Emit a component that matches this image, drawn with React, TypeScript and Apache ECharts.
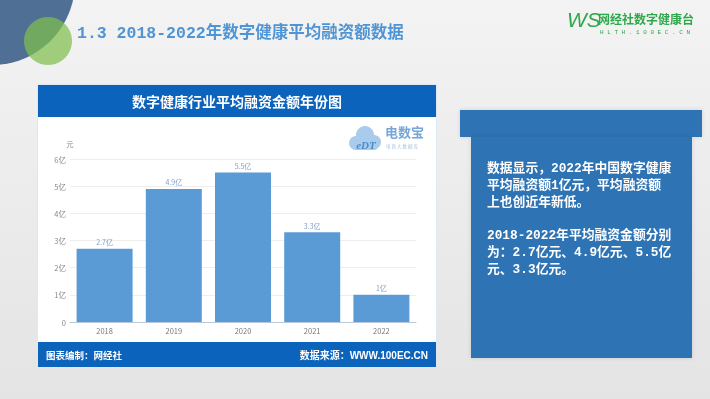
import React, { useEffect, useRef } from "react";
import * as echarts from "echarts";

const categories = ["2018", "2019", "2020", "2021", "2022"];
const values = [2.7, 4.9, 5.5, 3.3, 1];
const yTicks = [0, 1, 2, 3, 4, 5, 6];
const pageTitle = "1.3 2018-2022年数字健康平均融资额数据";
const chartTitle = "数字健康行业平均融资金额年份图";
const footerLeft = "图表编制：网经社";
const footerRight = "数据来源：WWW.100EC.CN";
const boxText =
  "数据显示，2022年中国数字健康\n平均融资额1亿元，平均融资额\n上也创近年新低。\n\n2018-2022年平均融资金额分别\n为：2.7亿元、4.9亿元、5.5亿\n元、3.3亿元。";

const CJK = "'Noto Sans CJK SC', 'Noto Sans', sans-serif";
const MONO = "'Liberation Mono', 'DejaVu Sans Mono', 'Noto Sans CJK SC', monospace";

export default function App() {
  const ref = useRef<HTMLDivElement>(null);
  useEffect(() => {
    if (!ref.current) return;
    const chart = echarts.init(ref.current, undefined, { renderer: "svg" });
    chart.setOption({
      animation: false,
      grid: { left: 70, right: 294, top: 159, bottom: 77 },
      xAxis: {
        type: "category",
        data: categories,
        axisLine: { lineStyle: { color: "#b8c8dc" } },
        axisTick: { show: false },
        axisLabel: { color: "#777", fontSize: 7.5, fontFamily: CJK, margin: 5 },
      },
      yAxis: {
        type: "value",
        min: yTicks[0],
        max: yTicks[yTicks.length - 1],
        interval: 1,
        name: "元",
        nameGap: 12,
        nameTextStyle: { color: "#888", fontSize: 7, fontFamily: CJK, align: "center", padding: [0, 0, 0, 0] },
        axisLine: { show: false },
        axisTick: { show: false },
        splitLine: { lineStyle: { color: "#eeeeee" } },
        axisLabel: {
          color: "#888",
          fontSize: 7.5,
          fontFamily: CJK,
          margin: 4,
          formatter: (v: number) => (v === 0 ? "0" : v + "亿"),
        },
      },
      series: [
        {
          type: "bar",
          data: values,
          barWidth: 56,
          itemStyle: { color: "#5b9bd5" },
          label: {
            show: true,
            position: "top",
            distance: 3,
            color: "#7e9fcb",
            fontSize: 7,
            fontFamily: CJK,
            formatter: (p: any) => p.value + "亿",
          },
          z: 5,
        },
      ],
      graphic: [
        {
          type: "rect",
          z: -100,
          silent: true,
          shape: { x: 0, y: 0, width: 710, height: 399 },
          style: {
            fill: new echarts.graphic.LinearGradient(0, 0, 0, 1, [
              { offset: 0, color: "#f3f3f3" },
              { offset: 1, color: "#e4e4e4" },
            ]),
          },
        },
        { type: "circle", z: -99, shape: { cx: -8, cy: -18, r: 83 }, style: { fill: "#506f95" } },
        { type: "circle", z: -98, shape: { cx: 48, cy: 41, r: 24 }, style: { fill: "#7fbf4d", opacity: 0.72 } },
        {
          type: "text",
          z: 10,
          x: 77,
          y: 33,
          style: {
            text: pageTitle,
            fill: "#4f94d4",
            font: `bold 16.5px ${MONO}`,
            verticalAlign: "middle",
          },
        },
        // logo
        {
          type: "text",
          z: 10,
          x: 567,
          y: 19,
          style: { text: "WS", fill: "#2ea84a", font: `italic 21px 'Liberation Sans', sans-serif`, verticalAlign: "middle" },
        },
        {
          type: "text",
          z: 10,
          x: 598,
          y: 18,
          style: { text: "网经社数字健康台", fill: "#2ea84a", font: `bold 12px ${CJK}`, verticalAlign: "middle" },
        },
        {
          type: "text",
          z: 10,
          x: 600,
          y: 32,
          style: { text: "H L T H . 1 0 0 E C . C N", fill: "#2ea84a", font: `6px ${MONO}`, verticalAlign: "middle" },
        },
        // card
        { type: "rect", z: -90, shape: { x: 37, y: 84, width: 400, height: 284 }, style: { fill: "#dfe8f2" } },
        { type: "rect", z: -89, shape: { x: 38, y: 117, width: 398, height: 226 }, style: { fill: "#ffffff" } },
        { type: "rect", z: -89, shape: { x: 38, y: 85, width: 398, height: 32 }, style: { fill: "#0b63bb" } },
        { type: "rect", z: -89, shape: { x: 38, y: 342, width: 398, height: 25 }, style: { fill: "#0b63bb" } },
        {
          type: "text",
          z: 10,
          x: 237,
          y: 101,
          style: { text: chartTitle, fill: "#ffffff", font: `bold 14px ${CJK}`, align: "center", verticalAlign: "middle" },
        },
        {
          type: "text",
          z: 10,
          x: 46,
          y: 355,
          style: { text: footerLeft, fill: "#ffffff", font: `bold 9.5px ${CJK}`, verticalAlign: "middle" },
        },
        {
          type: "text",
          z: 10,
          x: 428,
          y: 355,
          style: { text: footerRight, fill: "#ffffff", font: `bold 10px 'Liberation Sans', ${CJK}`, align: "right", verticalAlign: "middle" },
        },
        // watermark cloud
        { type: "circle", z: -80, shape: { cx: 365, cy: 135, r: 9 }, style: { fill: "#a9cbec" } },
        { type: "circle", z: -80, shape: { cx: 356, cy: 143, r: 7 }, style: { fill: "#a9cbec" } },
        { type: "circle", z: -80, shape: { cx: 374, cy: 142, r: 7 }, style: { fill: "#a9cbec" } },
        { type: "rect", z: -80, shape: { x: 352, y: 140, width: 26, height: 10, r: 4 }, style: { fill: "#a9cbec" } },
        {
          type: "text",
          z: -79,
          x: 366,
          y: 145,
          style: { text: "eDT", fill: "#4d8ccc", font: `bold italic 11px 'Liberation Serif', serif`, align: "center", verticalAlign: "middle" },
        },
        {
          type: "text",
          z: -79,
          x: 385,
          y: 131,
          style: { text: "电数宝", fill: "#78a6d8", font: `bold 13px ${CJK}`, verticalAlign: "middle" },
        },
        {
          type: "text",
          z: -79,
          x: 386,
          y: 146,
          style: { text: "电 商 大 数 据 库", fill: "#a6c2e2", font: `4.5px ${CJK}`, verticalAlign: "middle" },
        },
        // right box
        {
          type: "rect",
          z: -90,
          shape: { x: 460, y: 110, width: 242, height: 27 },
          style: { fill: "#2e73b4", shadowBlur: 4, shadowColor: "rgba(0,0,0,0.12)" },
        },
        {
          type: "rect",
          z: -90,
          shape: { x: 471, y: 137, width: 221, height: 221 },
          style: { fill: "#2e73b4", shadowBlur: 4, shadowColor: "rgba(0,0,0,0.12)" },
        },
        {
          type: "text",
          z: 10,
          x: 487,
          y: 160,
          style: {
            text: boxText,
            fill: "#ffffff",
            font: `bold 12.8px ${MONO}`,
            lineHeight: 16.8,
            verticalAlign: "top",
          },
        },
      ],
    });
    return () => chart.dispose();
  }, []);
  return <div ref={ref} style={{ position: "fixed", left: 0, top: 0, width: 710, height: 399 }} />;
}
